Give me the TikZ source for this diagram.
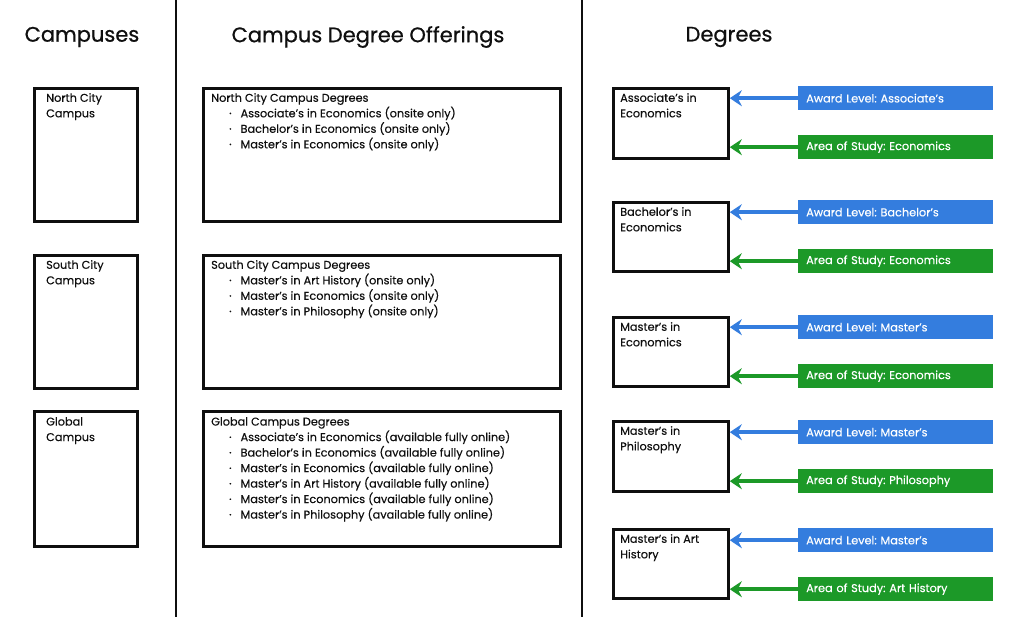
\documentclass[tikz,border=0pt]{standalone}
\usepackage{fontspec}
\setmainfont[FakeBold=0.25]{Poppins}
\newfontfamily\hdrfont[FakeBold=0.7]{Poppins}
\usetikzlibrary{arrows.meta}
\definecolor{tagblue}{RGB}{52,125,222}
\definecolor{taggreen}{RGB}{28,153,40}
\definecolor{ink}{RGB}{15,15,15}
\frenchspacing
\begin{document}
\begin{tikzpicture}[x=1pt,y=-1pt,
  hdr/.style={inner sep=0pt, font=\hdrfont\fontsize{21}{24}\selectfont, text=ink},
  box/.style={draw=ink, line width=2.8pt, inner sep=0pt, anchor=north west},
  boxtext/.style={anchor=north west, align=left, inner sep=0pt, text=ink, font=\fontsize{11.3}{15.5}\selectfont},
  tag/.style={anchor=north west, minimum width=195pt, minimum height=24pt, inner xsep=8pt, inner ysep=0pt, text width=179pt, align=left, text=white, font=\fontsize{11.3}{13}\selectfont},
  bluetag/.style={tag, fill=tagblue},
  greentag/.style={tag, fill=taggreen},
  barrow/.style={draw=tagblue, line width=4pt, -{Stealth[length=12pt,width=16pt,inset=4pt]}},
  garrow/.style={draw=taggreen, line width=4pt, -{Stealth[length=12pt,width=16pt,inset=4pt]}},
  divider/.style={draw=ink, line width=2.6pt}
]
\useasboundingbox (0,0) rectangle (1024,617);
\fill[white] (0,0) rectangle (1024,617);

% dividers
\coordinate (v1t) at (176,0); \coordinate (v1b) at (176,617);
\coordinate (v2t) at (582,0); \coordinate (v2b) at (582,617);
\draw[divider] (v1t) -- (v1b);
\draw[divider] (v2t) -- (v2b);

% headers
\node[hdr] (h1) at (82,37) {Campuses};
\node[hdr] (h2) at (368,37) {Campus Degree Offerings};
\node[hdr] (h3) at (729,37) {Degrees};

% campus boxes
\node[box, minimum width=103pt, minimum height=133pt] (c1) at (33,87) {};
\node[box, minimum width=103pt, minimum height=133pt] (c2) at (33,254) {};
\node[box, minimum width=103pt, minimum height=135pt] (c3) at (33,410) {};
\node[boxtext] (c1t) at (46,93) {North City\\Campus};
\node[boxtext] (c2t) at (46,260) {South City\\Campus};
\node[boxtext] (c3t) at (46,417) {Global\\Campus};

% offering boxes
\node[box, minimum width=357pt, minimum height=133pt] (o1) at (202,87) {};
\node[box, minimum width=357pt, minimum height=133pt] (o2) at (202,254) {};
\node[box, minimum width=357pt, minimum height=135pt] (o3) at (202,410) {};
\node[boxtext] (o1t) at (211,93) {North City Campus Degrees\\
  \hspace{18pt}·\hspace{9pt}Associate's in Economics (onsite only)\\
  \hspace{18pt}·\hspace{9pt}Bachelor's in Economics (onsite only)\\
  \hspace{18pt}·\hspace{9pt}Master's in Economics (onsite only)};
\node[boxtext] (o2t) at (211,260) {South City Campus Degrees\\
  \hspace{18pt}·\hspace{9pt}Master's in Art History (onsite only)\\
  \hspace{18pt}·\hspace{9pt}Master's in Economics (onsite only)\\
  \hspace{18pt}·\hspace{9pt}Master's in Philosophy (onsite only)};
\node[boxtext] (o3t) at (211,417) {Global Campus Degrees\\
  \hspace{18pt}·\hspace{9pt}Associate's in Economics (available fully online)\\
  \hspace{18pt}·\hspace{9pt}Bachelor's in Economics (available fully online)\\
  \hspace{18pt}·\hspace{9pt}Master's in Economics (available fully online)\\
  \hspace{18pt}·\hspace{9pt}Master's in Art History (available fully online)\\
  \hspace{18pt}·\hspace{9pt}Master's in Economics (available fully online)\\
  \hspace{18pt}·\hspace{9pt}Master's in Philosophy (available fully online)};

% degree boxes
\node[box, minimum width=115pt, minimum height=70pt] (d1) at (612,87) {};
\node[box, minimum width=115pt, minimum height=69pt] (d2) at (612,201) {};
\node[box, minimum width=115pt, minimum height=69pt] (d3) at (612,316) {};
\node[box, minimum width=115pt, minimum height=70pt] (d4) at (612,420) {};
\node[box, minimum width=115pt, minimum height=69pt] (d5) at (612,528) {};
\node[boxtext] (d1t) at (620,93) {Associate's in\\Economics};
\node[boxtext] (d2t) at (620,207) {Bachelor's in\\Economics};
\node[boxtext] (d3t) at (620,322) {Master's in\\Economics};
\node[boxtext] (d4t) at (620,426) {Master's in\\Philosophy};
\node[boxtext] (d5t) at (620,534) {Master's in Art\\History};

% tags
\node[bluetag] (a1) at (798,86) {Award Level: Associate's};
\node[greentag] (s1) at (798,135) {Area of Study: Economics};
\node[bluetag] (a2) at (798,200) {Award Level: Bachelor's};
\node[greentag] (s2) at (798,249) {Area of Study: Economics};
\node[bluetag] (a3) at (798,315) {Award Level: Master's};
\node[greentag] (s3) at (798,364) {Area of Study: Economics};
\node[bluetag] (a4) at (798,420) {Award Level: Master's};
\node[greentag] (s4) at (798,469) {Area of Study: Philosophy};
\node[bluetag] (a5) at (798,528) {Award Level: Master's};
\node[greentag] (s5) at (798,577) {Area of Study: Art History};

% arrows
\draw[barrow] (a1.west) -- (d1.east |- a1.west);
\draw[garrow] (s1.west) -- (d1.east |- s1.west);
\draw[barrow] (a2.west) -- (d2.east |- a2.west);
\draw[garrow] (s2.west) -- (d2.east |- s2.west);
\draw[barrow] (a3.west) -- (d3.east |- a3.west);
\draw[garrow] (s3.west) -- (d3.east |- s3.west);
\draw[barrow] (a4.west) -- (d4.east |- a4.west);
\draw[garrow] (s4.west) -- (d4.east |- s4.west);
\draw[barrow] (a5.west) -- (d5.east |- a5.west);
\draw[garrow] (s5.west) -- (d5.east |- s5.west);
\end{tikzpicture}
\end{document}
